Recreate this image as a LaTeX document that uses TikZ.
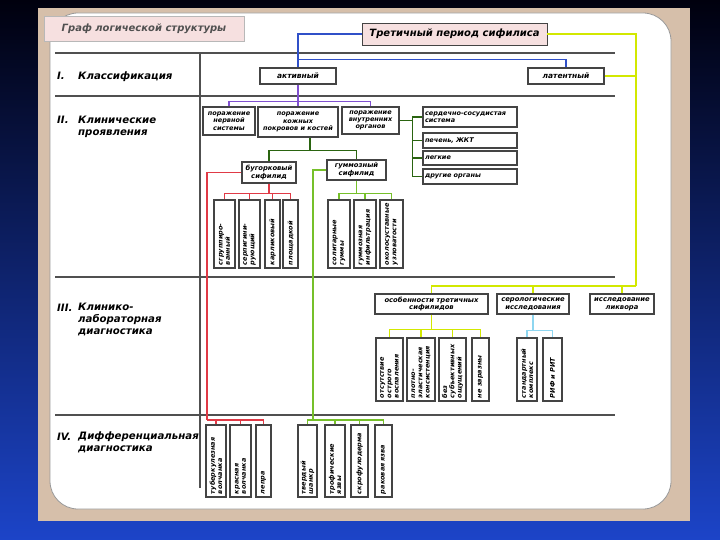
\documentclass[tikz,border=0pt]{standalone}
\usepackage{fontspec}
\setmainfont{DejaVu Sans}
\usetikzlibrary{calc}
\definecolor{bgtop}{HTML}{00000E}
\definecolor{bgmid}{HTML}{040A30}
\definecolor{bgbot}{HTML}{1C44C8}
\definecolor{tanframe}{HTML}{D6BFAA}
\definecolor{pageline}{HTML}{9A9A9A}
\definecolor{pinkfill}{HTML}{F6E0E0}
\definecolor{boxline}{HTML}{444444}
\definecolor{gridline}{HTML}{505050}
\definecolor{lnblue}{HTML}{3050C8}
\definecolor{lnpurple}{HTML}{8050D0}
\definecolor{lnyellow}{HTML}{D2E800}
\definecolor{lndkgreen}{HTML}{2A6410}
\definecolor{lnred}{HTML}{E03A46}
\definecolor{lngreen}{HTML}{76C02A}
\definecolor{lncyan}{HTML}{8ED6F0}

\begin{document}
\begin{tikzpicture}[x=1pt,y=-1pt,
box/.style={draw=boxline,fill=white,line width=1.1pt,inner sep=1pt,align=center,
 font=\fontsize{6.5}{7.3}\selectfont\bfseries\itshape},
listbox/.style={box,align=left,text width=90pt,inner sep=2pt,
 font=\fontsize{6.5}{7.5}\selectfont\bfseries\itshape},
vbox/.style={box,rotate=90,align=left,minimum width=68pt,text width=62pt},
rowlab/.style={font=\fontsize{10.2}{12}\selectfont\bfseries\itshape,inner sep=0pt,align=left},
link/.style={line width=1.1pt,draw=#1}]
\shade[top color=bgtop,middle color=bgmid,bottom color=bgbot] (0,0) rectangle (720,540);
\fill[tanframe] (38,8) rectangle (690,521);
\draw[pageline,fill=white,line width=.8pt,rounded corners=28pt] (50,13) rectangle (671,509);
\draw[gridline,line width=1.6pt] (55,53) -- (615,53);
\draw[gridline,line width=1.6pt] (55,96) -- (615,96);
\draw[gridline,line width=1.6pt] (55,277) -- (615,277);
\draw[gridline,line width=1.6pt] (55,415) -- (615,415);
\draw[gridline,line width=1.6pt] (200,53) -- (200,488);

\node[draw=pageline!70,fill=pinkfill,minimum width=200pt,minimum height=25pt,
 font=\fontsize{10}{12}\selectfont\bfseries\itshape,text=gridline] (title) at (144,29) {Граф логической структуры};
\node[draw=boxline,fill=pinkfill,line width=.9pt,minimum width=185pt,minimum height=22pt,
 font=\fontsize{10}{12}\selectfont\bfseries\itshape] (top) at (454.5,34) {Третичный период сифилиса};

\node[rowlab,anchor=base west] (r1num) at (57,79.5) {I.};
\node[rowlab,anchor=base west] (r1lab) at (78,79.5) {Классификация};
\node[rowlab,anchor=base west] (r2num) at (57,124) {II.};
\node[rowlab,anchor=north west] (r2lab) at (78,116) {Клинические\\проявления};
\node[rowlab,anchor=base west] (r3num) at (57,311) {III.};
\node[rowlab,anchor=north west] (r3lab) at (78,303) {Клинико-\\лабораторная\\диагностика};
\node[rowlab,anchor=base west] (r4num) at (57,440) {IV.};
\node[rowlab,anchor=north west] (r4lab) at (78,432) {Дифференциальная\\диагностика};

\node[box,minimum width=76pt,minimum height=16pt,font=\fontsize{7.5}{8}\selectfont\bfseries\itshape] (akt) at (298,76) {активный};
\node[box,minimum width=76pt,minimum height=16pt,font=\fontsize{7.5}{8}\selectfont\bfseries\itshape] (lat) at (566,76) {латентный};

\node[box,minimum width=52pt,minimum height=28pt] (nerv) at (229,121) {поражение\\нервной\\системы};
\node[box,minimum width=80pt,minimum height=30pt] (kozh) at (298,122) {поражение\\кожных\\покровов и костей};
\node[box,minimum width=57pt,minimum height=27pt] (vnutr) at (370.5,120.5) {поражение\\внутренних\\органов};
\node[listbox,minimum height=20pt] (serd) at (470,117) {сердечно-сосудистая\\система};
\node[listbox,minimum height=15pt] (pech) at (470,140.5) {печень, ЖКТ};
\node[listbox,minimum height=14pt] (lung) at (470,158) {легкие};
\node[listbox,minimum height=15pt] (other) at (470,176.5) {другие органы};

\node[box,minimum width=54pt,minimum height=21pt,font=\fontsize{6.8}{7.8}\selectfont\bfseries\itshape] (bug) at (269,172.5) {бугорковый\\сифилид};
\node[box,minimum width=59pt,minimum height=20pt,font=\fontsize{6.8}{7.8}\selectfont\bfseries\itshape] (gum) at (356.5,170) {гуммозный\\сифилид};

\node[vbox,minimum height=21pt] (sgr) at (224.5,234) {сгруппиро-\\ванный};
\node[vbox,minimum height=21pt] (serp) at (249.5,234) {серпигини-\\рующий};
\node[vbox,minimum height=15pt] (karl) at (272.5,234) {карликовый};
\node[vbox,minimum height=15pt] (plosh) at (290.5,234) {площадкой};
\node[vbox,minimum height=22pt] (sol) at (339,234) {солитарные\\гуммы};
\node[vbox,minimum height=22pt] (ginf) at (365,234) {гуммозная\\инфильтрация};
\node[vbox,minimum height=23pt] (okol) at (391.5,234) {околосуставные\\узловатости};

\node[box,minimum width=113pt,minimum height=20pt,font=\fontsize{6.8}{7.8}\selectfont\bfseries\itshape] (osob) at (431.5,304) {особенности третичных\\сифилидов};
\node[box,minimum width=72pt,minimum height=20pt,font=\fontsize{6.8}{7.8}\selectfont\bfseries\itshape] (sero) at (533,304) {серологические\\исследования};
\node[box,minimum width=64pt,minimum height=20pt,font=\fontsize{6.8}{7.8}\selectfont\bfseries\itshape] (likv) at (622,304) {исследование\\ликвора};

\node[vbox,minimum width=63pt,text width=57pt,minimum height=27pt] (ostr) at (389.5,369.5) {отсутствие\\острого\\воспаления};
\node[vbox,minimum width=63pt,text width=57pt,minimum height=28pt] (plot) at (421,369.5) {плотно-\\эластическая\\консистенция};
\node[vbox,minimum width=63pt,text width=57pt,minimum height=27pt] (subj) at (452.5,369.5) {без\\субъективных\\ощущений};
\node[vbox,minimum width=63pt,text width=57pt,minimum height=17pt] (zar) at (480.5,369.5) {не заразны};
\node[vbox,minimum width=63pt,text width=57pt,minimum height=20pt] (stand) at (527,369.5) {стандартный\\комплекс};
\node[vbox,minimum width=63pt,text width=57pt,minimum height=19pt] (rif) at (552.5,369.5) {РИФ и РИТ};

\node[vbox,minimum width=72pt,text width=66pt,minimum height=20pt] (tub) at (216,461) {туберкулезная\\волчанка};
\node[vbox,minimum width=72pt,text width=66pt,minimum height=21pt] (kras) at (240.5,461) {красная\\волчанка};
\node[vbox,minimum width=72pt,text width=66pt,minimum height=15pt] (lepra) at (263.5,461) {лепра};
\node[vbox,minimum width=72pt,text width=66pt,minimum height=19pt] (shank) at (307.5,461) {твердый\\шанкр};
\node[vbox,minimum width=72pt,text width=66pt,minimum height=20pt] (trof) at (335,461) {трофические\\язвы};
\node[vbox,minimum width=72pt,text width=66pt,minimum height=17pt] (skro) at (359.5,461) {скрофулодерма};
\node[vbox,minimum width=72pt,text width=66pt,minimum height=17pt] (rak) at (383.5,461) {раковая язва};

\coordinate (rturn) at (207,420);
\coordinate (gturn) at (313,420);
\coordinate (yturn) at (636,286);

\draw[link=lnblue] (top.west) -| (akt.north);
\draw[link=lnblue] (akt.north) ++(0,-8) coordinate (bsplit) -| (lat.north);
\draw[link=lnpurple] (akt.south) -- (kozh.north);
\draw[link=lnpurple] (akt.south) ++(0,17) coordinate (pbus) -| (nerv.north);
\draw[link=lnpurple] (pbus) -| (vnutr.north);
\draw[link=lnyellow] (top.east) -| (yturn);
\draw[link=lnyellow] (lat.east) -- (lat.east -| yturn);
\foreach \n in {osob,sero,likv} \draw[link=lnyellow] (yturn) -| (\n.north);

\draw[link=lndkgreen] (vnutr.east) -- ++(13,0) coordinate (gspine);
\foreach \n in {serd,pech,lung,other} \draw[link=lndkgreen] (gspine) |- (\n.west);
\draw[link=lndkgreen] ([xshift=12pt]kozh.south) -- ++(0,13) coordinate (kbus);
\draw[link=lndkgreen] (kbus) -| (bug.north);
\draw[link=lndkgreen] (kbus) -| (gum.north);

\draw[link=lnred] (bug.south) -- ++(0,10) coordinate (rbus);
\foreach \n in {sgr,serp,karl,plosh} \draw[link=lnred] (rbus) -| (\n.east);
\draw[link=lnred] (bug.west) -| (rturn);
\foreach \n in {tub,kras,lepra} \draw[link=lnred] (rturn) -| (\n.east);

\draw[link=lngreen] (gum.south) -- ++(0,13) coordinate (gbus);
\foreach \n in {sol,ginf,okol} \draw[link=lngreen] (gbus) -| (\n.east);
\draw[link=lngreen] (gum.west) -| (gturn);
\foreach \n in {shank,trof,skro,rak} \draw[link=lngreen] (gturn) -| (\n.east);

\draw[link=lnyellow] (osob.south) -- ++(0,15) coordinate (ybus);
\foreach \n in {ostr,plot,subj,zar} \draw[link=lnyellow] (ybus) -| (\n.east);
\draw[link=lncyan] (sero.south) -- ++(0,16) coordinate (cbus);
\foreach \n in {stand,rif} \draw[link=lncyan] (cbus) -| (\n.east);
\end{tikzpicture}
\end{document}
